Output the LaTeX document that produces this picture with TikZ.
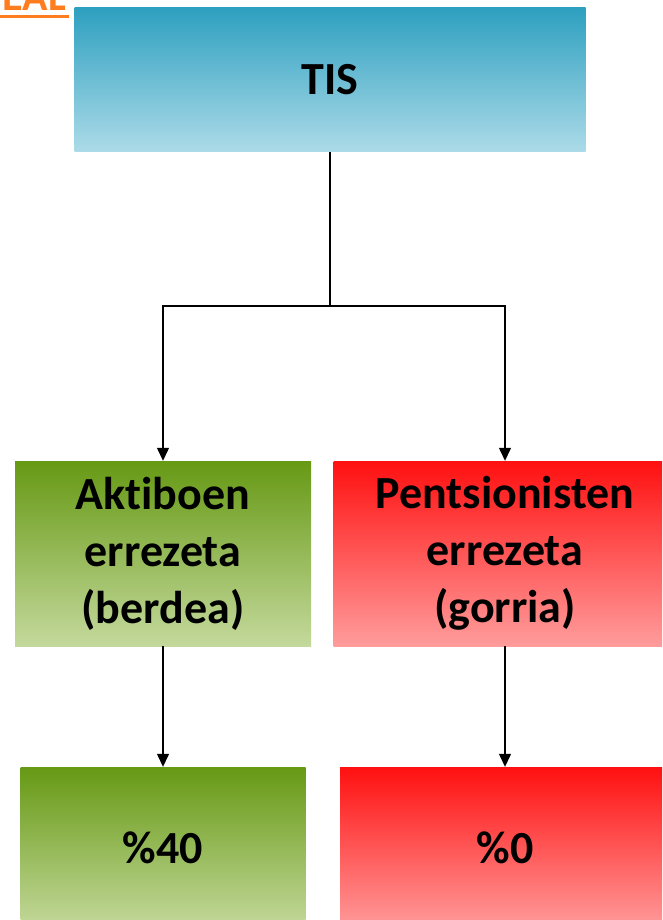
\documentclass[tikz,border=0pt]{standalone}
\usepackage{fontspec}
\setmainfont{Carlito}[Ligatures={NoCommon,NoRare,NoContextual}]
\usetikzlibrary{arrows.meta}
\definecolor{tistop}{RGB}{46,160,192}
\definecolor{tisbot}{RGB}{172,219,232}
\definecolor{grtop}{RGB}{102,153,20}
\definecolor{grbot}{RGB}{196,217,156}
\definecolor{rdtop}{RGB}{255,16,16}
\definecolor{rdbot}{RGB}{255,156,156}
\definecolor{eal}{RGB}{255,125,30}
\tikzset{
  box/.style={rectangle, inner sep=0pt, align=center, font=\bfseries\fontsize{46}{57}\selectfont, text=black},
  bluebox/.style={box, top color=tistop, bottom color=tisbot},
  greenbox/.style={box, top color=grtop, bottom color=grbot},
  redbox/.style={box, top color=rdtop, bottom color=rdbot},
  conn/.style={line width=1.3pt, draw=black},
  arr/.style={conn, -{Triangle[length=13pt,width=12pt]}}
}
\begin{document}
\begin{tikzpicture}[x=1pt,y=-1pt]
\useasboundingbox (0,0) rectangle (662,920);
\clip (0,0) rectangle (662,920);
% top-left cut title
\node[anchor=base east, text=eal, font=\bfseries\fontsize{42}{42}\selectfont, inner sep=0pt] (eal) at (66,11) {EAL};
\fill[eal] (0,15) rectangle (69,18);
% boxes
\node[bluebox, minimum width=511pt, minimum height=144pt] (tis) at (330,80) {TIS};
\node[greenbox, minimum width=296pt, minimum height=185pt] (akt) at (163,553.5) {Aktiboen\\errezeta\\(berdea)};
\node[redbox, minimum width=343pt, minimum height=185pt] (pen) at (505,553.5) {Pentsionisten\\errezeta\\(gorria)};
\node[greenbox, minimum width=285pt, minimum height=162pt] (p40) at (163,848) {\%40};
\node[redbox, minimum width=330pt, minimum height=162pt] (p0) at (505,848) {\%0};
% connectors
\coordinate (j) at (330,306);
\draw[conn] (tis.south) -- (j);
\draw[arr] (j) -| (akt.north);
\draw[arr] (j) -| (pen.north);
\draw[arr] (akt.south) -- (p40.north);
\draw[arr] (pen.south) -- (p0.north);
\end{tikzpicture}
\end{document}
